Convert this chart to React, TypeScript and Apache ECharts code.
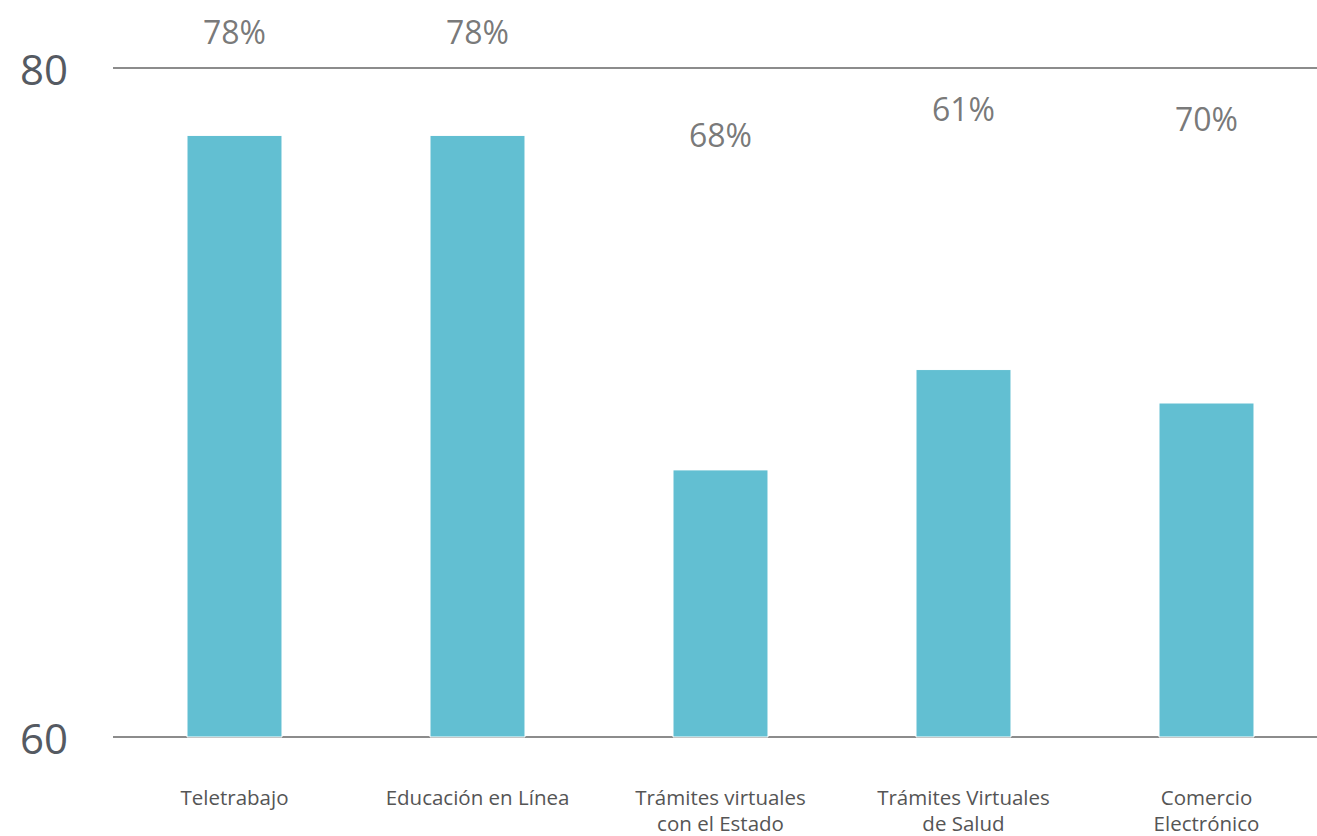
import React, { useEffect, useRef } from "react";
import * as echarts from "echarts";

const categories = [
  "Teletrabajo",
  "Educación en Línea",
  "Trámites virtuales\ncon el Estado",
  "Trámites Virtuales\nde Salud",
  "Comercio\nElectrónico",
];
const barValues = [78, 78, 68, 71, 70];
const labelTexts = ["78%", "78%", "68%", "61%", "70%"];
const labelPositions = [81.1, 81.1, 78.0, 78.8, 78.5];
const yMin = 60;
const yMax = 80;

export default function App() {
  const ref = useRef<HTMLDivElement>(null);
  useEffect(() => {
    document.body.style.margin = "0";
    document.body.style.overflow = "hidden";
    if (!ref.current) return;
    const chart = echarts.init(ref.current, null, { renderer: "svg" });
    chart.setOption({
      animation: false,
      backgroundColor: "#ffffff",
      textStyle: { fontFamily: "Open Sans" },
      grid: {
        left: 113,
        right: 0,
        top: 68,
        bottom: 99,
        containLabel: false,
        outerBoundsMode: "none",
      },
      xAxis: {
        type: "category",
        data: categories,
        axisLine: { show: false },
        axisTick: { show: false },
        axisLabel: {
          color: "#555555",
          fontSize: 20.5,
          fontFamily: "Open Sans",
          margin: 47,
          lineHeight: 26,
          interval: 0,
        },
      },
      yAxis: {
        type: "value",
        min: yMin,
        max: yMax,
        interval: 20,
        axisLine: { show: false },
        axisTick: { show: false },
        axisLabel: {
          color: "#555a62",
          fontSize: 42,
          fontFamily: "Open Sans",
          margin: 45,
        },
        splitLine: { lineStyle: { color: "#8c8c8c", width: 2 } },
      },
      series: [
        {
          type: "bar",
          data: barValues,
          barWidth: "39.5%",
          itemStyle: { color: "#62BFD2", borderColor: "#ffffff", borderWidth: 1 },
          z: 3,
        },
        {
          type: "scatter",
          data: labelPositions,
          symbolSize: 0,
          clip: false,
          silent: true,
          label: {
            show: true,
            position: "inside",
            color: "#555555",
            fontSize: 32,
            fontFamily: "Open Sans",
            formatter: (p: any) => labelTexts[p.dataIndex],
          },
          z: 4,
        },
      ],
    });
    return () => chart.dispose();
  }, []);
  return (
    <div style={{ width: 1317, height: 836, overflow: "hidden", position: "relative" }}>
      <div ref={ref} style={{ width: 1328, height: 836, position: "absolute", left: 0, top: 0 }} />
    </div>
  );
}
